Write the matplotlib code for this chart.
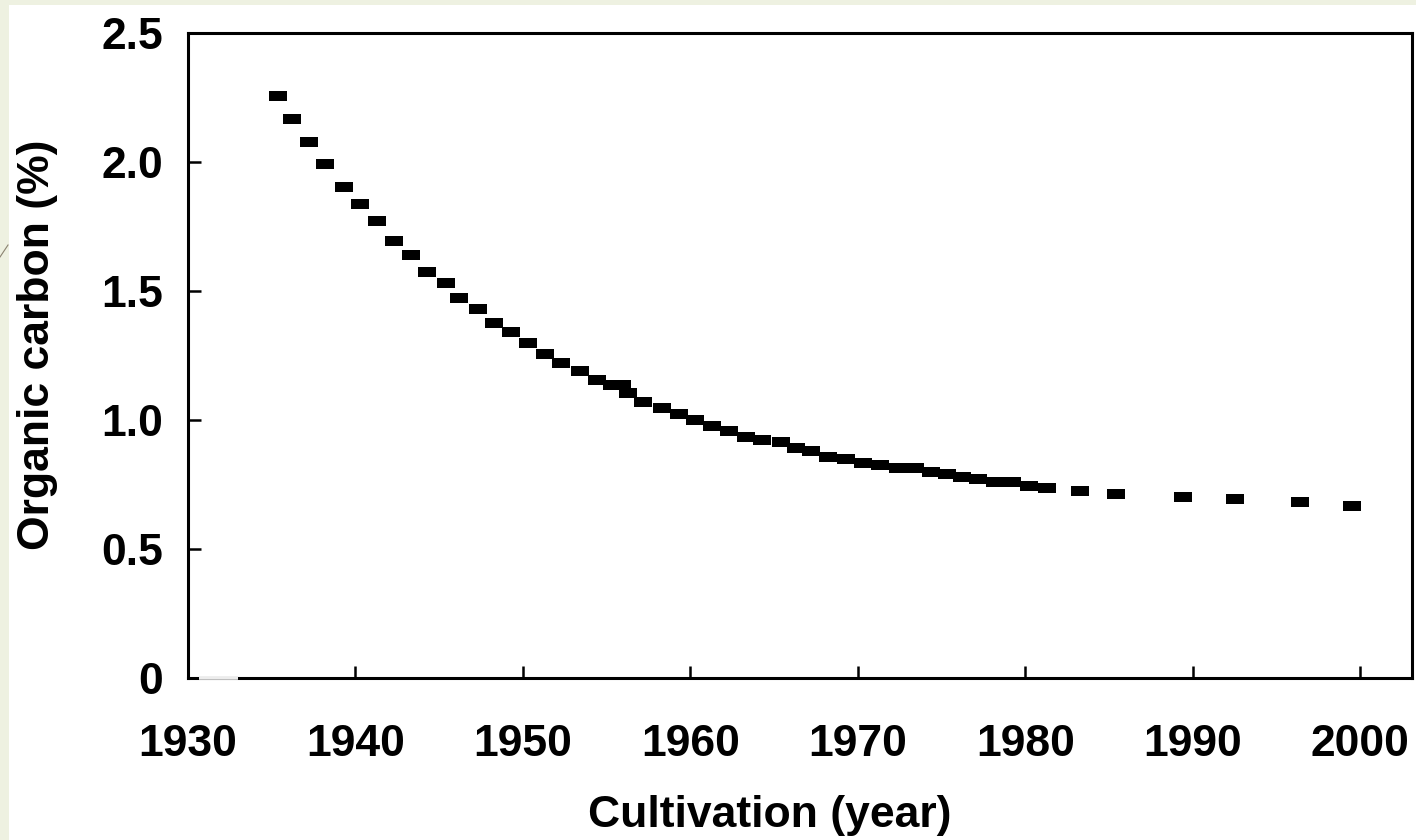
import matplotlib
matplotlib.use("Agg")
import matplotlib.pyplot as plt
from matplotlib.lines import Line2D
from matplotlib.patches import Rectangle

years = [1935.4, 1936.2, 1937.2, 1938.2, 1939.3, 1940.3, 1941.3, 1942.3, 1943.3, 1944.3,
         1945.4, 1946.2, 1947.3, 1948.3, 1949.3, 1950.3, 1951.3, 1952.3, 1953.4, 1954.4,
         1955.3, 1955.9, 1956.3, 1957.2, 1958.3, 1959.3, 1960.3, 1961.3, 1962.3, 1963.3,
         1964.3, 1965.4, 1966.3, 1967.2, 1968.2, 1969.3, 1970.3, 1971.3, 1972.4, 1973.4,
         1974.4, 1975.3, 1976.2, 1977.2, 1978.2, 1979.2, 1980.2, 1981.3, 1983.3, 1985.4,
         1989.4, 1992.5, 1996.4, 1999.5]
carbon = [2.256, 2.167, 2.078, 1.992, 1.903, 1.837, 1.771, 1.694, 1.640, 1.574,
          1.531, 1.473, 1.430, 1.376, 1.341, 1.298, 1.256, 1.221, 1.190, 1.155,
          1.136, 1.136, 1.105, 1.070, 1.047, 1.023, 1.000, 0.977, 0.957, 0.934,
          0.922, 0.915, 0.891, 0.880, 0.857, 0.849, 0.833, 0.826, 0.814, 0.814,
          0.798, 0.791, 0.779, 0.771, 0.760, 0.760, 0.744, 0.736, 0.725, 0.713,
          0.702, 0.694, 0.682, 0.667]

xticks = [1930, 1940, 1950, 1960, 1970, 1980, 1990, 2000]
yticks = [0, 0.5, 1.0, 1.5, 2.0, 2.5]
ytick_labels = ["0", "0.5", "1.0", "1.5", "2.0", "2.5"]

plt.rcParams['font.family'] = ['Liberation Sans', 'DejaVu Sans']

fig = plt.figure(figsize=(14.16, 8.4), dpi=100)
fig.patch.set_facecolor('#eef1e1')
# white slide content area
bg = Rectangle((9/1416, 0), 1 - 9/1416, 1 - 5/840, transform=fig.transFigure,
               facecolor='white', edgecolor='none', zorder=-10)
fig.add_artist(bg)
deco = Line2D([0, 8/1416], [1 - 257/840, 1 - 245/840], transform=fig.transFigure,
              color='#8a8270', lw=0.8, zorder=-5)
fig.add_artist(deco)

ax = fig.add_axes([188/1416, 1 - 678/840, (1412 - 188)/1416, (678 - 33)/840])
ax.set_zorder(1)
ax.set_facecolor('white')

rect = [(-1.65, -1), (1.65, -1), (1.65, 1), (-1.65, 1), (-1.65, -1)]
ax.plot(years, carbon, linestyle='none', marker=rect, markersize=12.5,
        color='black', markeredgewidth=0, zorder=3)

ax.set_xlim(1930, 2003.1)
ax.set_ylim(0, 2.5)
ax.set_xticks(xticks)
ax.set_yticks(yticks)
ax.set_yticklabels(ytick_labels)

for s in ax.spines.values():
    s.set_linewidth(2.2)
    s.set_color('black')

ax.tick_params(axis='both', direction='in', length=9, width=1.8, labelsize=32, colors='black')
ax.tick_params(axis='x', pad=33)
ax.tick_params(axis='y', pad=18)
for lab in ax.get_xticklabels() + ax.get_yticklabels():
    lab.set_fontweight('bold')

# light gap in bottom spine near the origin (as in the source)
ax.plot([0.009, 0.041], [0, 0], transform=ax.transAxes, color='#ececec', lw=2.6,
        clip_on=False, zorder=4, solid_capstyle='butt')

ax.set_xlabel('Cultivation (year)', fontsize=32, fontweight='bold')
ax.set_ylabel('Organic carbon (%)', fontsize=32, fontweight='bold')
ax.xaxis.set_label_coords(0.475, -0.182)
ax.yaxis.set_label_coords(-0.106, 0.517)

fig.savefig('out.png', dpi=100, facecolor=fig.get_facecolor())
